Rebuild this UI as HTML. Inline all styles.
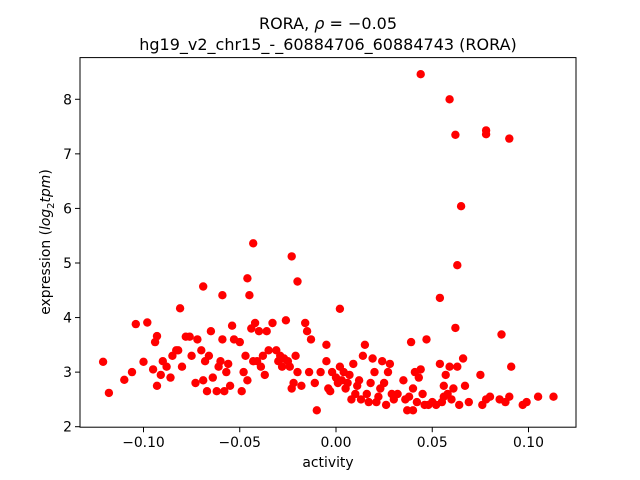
<!DOCTYPE html>
<html><head><meta charset="utf-8"><style>
html,body{margin:0;padding:0;background:#fff;}
svg{display:block;font-family:"DejaVu Sans","Liberation Sans",sans-serif;}
</style></head><body>
<svg id="chart" width="640" height="480" viewBox="0 0 640 480">
<rect width="640" height="480" fill="#fff"/>
<text x="328" y="29" text-anchor="middle" font-size="16" fill="#000">RORA, <tspan font-style="italic">ρ</tspan> = −0.05</text>
<text x="328" y="50" text-anchor="middle" font-size="16" fill="#000">hg19_v2_chr15_-_60884706_60884743 (RORA)</text>
<g id="points"></g>
<rect x="80" y="57.6" width="496" height="369.6" fill="none" stroke="#000" stroke-width="1"/>
<g id="xticks"></g>
<g id="yticks"></g>
<text x="328" y="467" text-anchor="middle" font-size="13.9">activity</text>
<text transform="translate(50,242) rotate(-90)" text-anchor="middle" font-size="13.9">expression (<tspan font-style="italic">log</tspan><tspan font-size="10" dy="4">2</tspan><tspan dy="-4" font-style="italic">tpm</tspan>)</text>
</svg>
<script>
const xTicks=[-0.10,-0.05,0.00,0.05,0.10];
const xTickLabels=["−0.10","−0.05","0.00","0.05","0.10"];
const yTicks=[2,3,4,5,6,7,8];
const yTickLabels=["2","3","4","5","6","7","8"];
const activity=[0.044,0.059,0.062,0.078,0.078,0.090,0.065,0.063,0.054,0.062,0.086,-0.043,-0.023,-0.020,-0.046,-0.045,-0.059,-0.069,0.002,-0.081,-0.104,-0.098,-0.118,-0.121,-0.110,-0.106,-0.100,-0.094,-0.093,
-0.095,-0.093,-0.091,-0.090,-0.088,-0.086,-0.085,-0.083,-0.082,-0.080,-0.078,-0.076,-0.075,-0.073,-0.072,-0.070,-0.069,-0.068,-0.067,-0.066,-0.065,-0.064,-0.062,-0.061,-0.060,-0.059,-0.058,-0.057,-0.056,-0.055,-0.054,-0.053,-0.050,-0.049,-0.048,-0.047,-0.046,-0.044,-0.043,-0.042,-0.041,-0.040,-0.039,-0.038,-0.037,-0.036,-0.035,-0.033,-0.031,-0.030,-0.029,-0.028,-0.027,-0.026,-0.025,-0.024,-0.023,-0.022,-0.021,-0.020,-0.018,-0.016,-0.015,-0.014,-0.013,-0.011,-0.010,-0.008,-0.005,-0.005,-0.004,-0.003,-0.002,
0.000,0.001,0.002,0.003,0.004,0.005,0.006,0.007,0.008,0.009,0.010,0.011,0.012,0.013,0.014,0.015,0.016,0.017,0.018,0.019,0.020,0.021,0.022,0.023,0.024,0.025,0.026,0.027,0.028,0.029,0.030,0.032,0.035,0.036,0.037,0.038,0.039,0.040,0.040,0.041,0.042,0.043,0.044,0.045,0.046,0.047,0.048,0.050,0.052,0.054,0.055,0.056,0.056,0.057,0.058,0.059,0.060,0.061,0.063,0.064,0.066,0.067,0.069,0.075,0.076,0.078,0.080,0.085,0.088,0.090,0.091,0.097,0.099,0.105,0.113];
const expression=[8.46,8.0,7.35,7.43,7.36,7.28,6.04,4.96,4.36,3.81,3.69,5.36,5.12,4.66,4.72,4.41,4.41,4.57,4.16,4.17,3.88,3.91,2.62,3.19,2.86,3.0,3.19,3.55,3.66,
3.05,2.75,2.95,3.2,3.1,2.9,3.3,3.4,3.4,3.1,3.65,3.65,3.3,2.8,3.6,3.4,2.85,3.2,2.65,3.3,3.75,2.9,2.65,3.1,3.2,3.6,2.65,3.0,3.15,2.75,3.85,3.6,3.55,2.65,3.0,3.3,2.85,3.8,3.2,3.9,3.2,3.75,3.1,3.3,2.95,3.75,3.4,3.9,3.4,3.2,3.3,3.1,3.25,3.95,3.2,3.1,2.7,2.8,3.3,3.0,2.75,3.9,3.75,3.0,3.6,2.8,2.3,3.0,3.5,3.2,2.7,2.65,3.0,
2.9,2.8,3.1,2.85,3.0,2.7,2.8,2.95,2.5,3.15,2.6,2.75,2.85,2.5,3.3,3.5,2.6,2.45,2.8,3.25,3.0,2.45,2.55,2.7,3.2,2.8,2.4,3.0,3.15,2.6,2.5,2.6,2.85,2.5,2.3,2.55,3.55,2.7,2.3,3.0,2.45,2.9,3.05,2.6,2.4,3.6,2.4,2.45,2.4,3.15,2.45,2.75,2.55,2.95,2.6,3.1,2.5,2.7,3.1,2.4,3.25,2.75,2.45,2.95,2.4,2.5,2.55,2.5,2.45,2.55,3.1,2.4,2.45,2.55,2.55];
const X0=336, XS=1925; // px per unit
const Y0=426.7, YS=54.57;
function sx(v){return X0+v*XS;}
function sy(v){return Y0-(v-2)*YS;}
const NS='http://www.w3.org/2000/svg';
const pg=document.getElementById('points');
for(let i=0;i<activity.length;i++){
  const c=document.createElementNS(NS,'circle');
  c.setAttribute('cx',sx(activity[i]).toFixed(1));
  c.setAttribute('cy',sy(expression[i]).toFixed(1));
  c.setAttribute('r','4.2');
  c.setAttribute('fill','#ff0000');
  
  
  pg.appendChild(c);
}
const xg=document.getElementById('xticks');
xTicks.forEach((t,i)=>{
  const x=sx(t);
  const l=document.createElementNS(NS,'line');
  l.setAttribute('x1',x);l.setAttribute('x2',x);l.setAttribute('y1',427.2);l.setAttribute('y2',432.2);
  l.setAttribute('stroke','#000');
  
  
  xg.appendChild(l);
  const tx=document.createElementNS(NS,'text');
  tx.setAttribute('x',x);tx.setAttribute('y',447);tx.setAttribute('text-anchor','middle');tx.setAttribute('font-size','13.9');
  tx.textContent=xTickLabels[i];
  
  
  xg.appendChild(tx);
});
const yg=document.getElementById('yticks');
yTicks.forEach((t,i)=>{
  const y=sy(t);
  const l=document.createElementNS(NS,'line');
  l.setAttribute('x1',75);l.setAttribute('x2',80);l.setAttribute('y1',y);l.setAttribute('y2',y);
  l.setAttribute('stroke','#000');
  
  
  yg.appendChild(l);
  const tx=document.createElementNS(NS,'text');
  tx.setAttribute('x',72);tx.setAttribute('y',y+5);tx.setAttribute('text-anchor','end');tx.setAttribute('font-size','13.9');
  tx.textContent=yTickLabels[i];
  
  
  yg.appendChild(tx);
});
</script>
</body></html>
